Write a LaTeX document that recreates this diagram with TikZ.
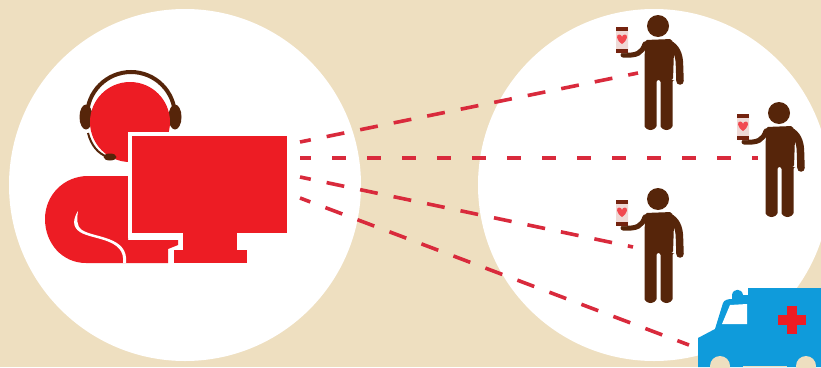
\documentclass[tikz,border=0pt]{standalone}
\usetikzlibrary{arrows.meta,positioning,calc}
\definecolor{sand}{HTML}{EEDFC0}
\definecolor{alarm}{HTML}{ED1C24}
\definecolor{cocoa}{HTML}{56250A}
\definecolor{medic}{HTML}{0F9BDB}
\definecolor{beam}{HTML}{D92A3C}
\definecolor{screen}{HTML}{EFD9D6}
\tikzset{
  person/.pic={
    \fill[cocoa] (0,0) circle[radius=11pt];
    \fill[cocoa,rounded corners=2pt] (-13,14) -- (14,13) -- (16,24) -- (15,54) -- (14.5,54)
      -- (14.5,98) arc[start angle=0,end angle=-180,radius=6pt] -- (2.5,54) -- (-1.5,54)
      -- (-1.5,98) arc[start angle=0,end angle=-180,radius=6pt] -- (-13.5,40) -- cycle;
    \draw[cocoa,line width=7.5pt,line cap=round] (13,19) .. controls (20,24) and (21.5,32) .. (21.5,40) -- (22,55);
    \draw[cocoa,line width=5pt,line cap=round] (-13,18) .. controls (-16,27) and (-21,30) .. (-35,29);
    \fill[screen,rounded corners=1pt] (-42,1) rectangle (-30,27);
    \fill[cocoa!80!alarm] (-42,1) rectangle (-30,4.5);
    \fill[cocoa!80!alarm] (-42,23) rectangle (-30,27);
    \fill[alarm!80!white] (-36,18) .. controls (-42,14) and (-42,8.5) .. (-39,8.5)
      .. controls (-37.5,8.5) and (-36,9.5) .. (-36,11)
      .. controls (-36,9.5) and (-34.5,8.5) .. (-33,8.5)
      .. controls (-30,8.5) and (-30,14) .. (-36,18) -- cycle;
  }
}
\begin{document}
\begin{tikzpicture}[x=1pt,y=-1pt]
\tikzstyle{disc}=[circle,fill=white,minimum size=352pt,inner sep=0pt]
\tikzstyle{beamline}=[beam,line width=3.6pt,dash pattern=on 18pt off 16.2pt,dash phase=7pt]
\tikzstyle{beamlevel}=[beam,line width=3.6pt,dash pattern=on 14pt off 21pt,dash phase=3pt]
\path[use as bounding box,fill=sand] (0,0) rectangle (821,367);
\clip (0,0) rectangle (821,367);
\node[disc] (leftdisc) at (185,185) {};
\node[disc] (rightdisc) at (654,185) {};
\fill[alarm] (128,176) -- (88,176) .. controls (64,176) and (45,195) .. (45,219)
  .. controls (45,243) and (62,263) .. (86,263) -- (168,263) -- (168,249) -- (178,245)
  -- (178,240) -- (128,240) -- cycle;
\fill[white] (78,211) .. controls (73,219) and (72,227) .. (80,232)
  .. controls (92,240) and (126,238) .. (123,263) -- (126,263)
  .. controls (129,236) and (94,238) .. (82,230) .. controls (76,226) and (77,218) .. (78,211) -- cycle;
\draw[cocoa,line width=4pt] (87,116) arc[start angle=180,end angle=0,radius=44pt];
\fill[cocoa] (86,117) ellipse[x radius=6.5pt,y radius=12.5pt];
\fill[cocoa] (175,117) ellipse[x radius=6.5pt,y radius=12.5pt];
\node[circle,fill=alarm,minimum size=80pt,inner sep=0pt] (head) at (130,122) {};
\draw[cocoa,line width=2pt] (88,133) .. controls (91,145) and (98,154) .. (108,157);
\fill[cocoa] (110,157) ellipse[x radius=6.5pt,y radius=3.5pt];
\node[rectangle,fill=alarm,draw=white,line width=4.5pt,minimum width=159.5pt,minimum height=101.5pt,inner sep=0pt] (monitor) at (209.5,184.5) {};
\fill[alarm] (183,230) rectangle (237,250);
\fill[alarm] (174,250) rectangle (247,263);
\pic (manA) at (658,26) {person};
\pic (manB) at (779,113) {person};
\pic (manC) at (658,199) {person};
\coordinate (a1) at (300,142);
\coordinate (a2) at (300,158);
\coordinate (a3) at (300,177);
\coordinate (a4) at (300,198);
\coordinate (e1) at (638,73);
\coordinate (e2) at (758,158);
\coordinate (e3) at (633,247);
\coordinate (e4) at (689,345);
\draw[beamline] (a1) -- (e1);
\draw[beamlevel] (a2) -- (e2);
\draw[beamline] (a3) -- (e3);
\draw[beamline] (a4) -- (e4);
\fill[medic] (698,367) -- (698,338) -- (715,329) -- (723,303) .. controls (724,300) and (728,299) .. (732,299)
  -- (732,295) .. controls (733,288) and (742,288) .. (743,295) -- (748,295) -- (748,288) -- (821,288) -- (821,367) -- cycle;
\fill[white] (722,324) -- (730,305) -- (747,304) -- (747,324) -- cycle;
\fill[alarm] (787,306) rectangle (797,334);
\fill[alarm] (778,315) rectangle (806,325);
\fill[sand] (720,366) circle[radius=10pt];
\fill[sand] (806,366) circle[radius=10pt];
\fill[sand] (743,366) rectangle (787,367);
\end{tikzpicture}
\end{document}
